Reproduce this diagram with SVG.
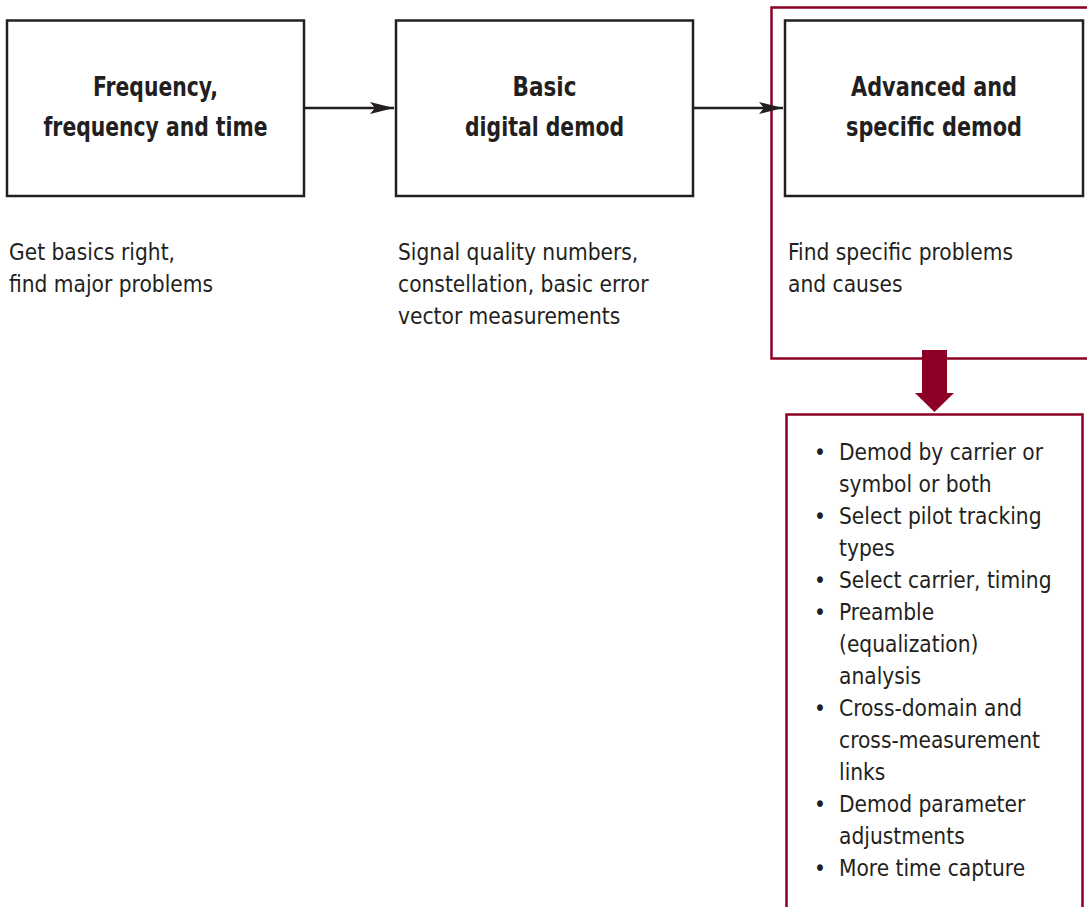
<svg xmlns="http://www.w3.org/2000/svg" width="1087" height="907" viewBox="0 0 1087 907">
<defs>
<style>
.box{fill:#fff;stroke:#231f20;stroke-width:2.5}
.red{fill:none;stroke:#8c0026;stroke-width:2.5}
.title{font-family:"Liberation Sans Narrow","DejaVu Sans Condensed",sans-serif;font-weight:bold;font-size:27px;fill:#231f20;text-anchor:middle}
.body{font-family:"Liberation Sans Narrow","DejaVu Sans Condensed",sans-serif;font-size:22.5px;fill:#231f20}
.conn{stroke:#231f20;stroke-width:2.5;fill:none}
</style>
<marker id="ah" viewBox="0 0 24 12" refX="24" refY="6" markerWidth="24" markerHeight="12" markerUnits="userSpaceOnUse" orient="auto">
<path d="M0,0 L24,6 L0,12 L5,6 Z" fill="#231f20"/>
</marker>
</defs>
<rect width="1087" height="907" fill="#fff"/>
<g id="highlight">
<path class="red" d="M1090,7.5 H771.5 V358.5 H1090"/>
</g>
<g id="node-frequency">
<rect class="box" x="7" y="20.5" width="297" height="175.5"/>
<text class="title" x="155.5" y="96" textLength="125" lengthAdjust="spacingAndGlyphs">Frequency,</text>
<text class="title" x="155.5" y="136" textLength="224" lengthAdjust="spacingAndGlyphs">frequency and time</text>
<text class="body" x="9" y="260">Get basics right,</text>
<text class="body" x="9" y="292">find major problems</text>
</g>
<g id="node-basic">
<rect class="box" x="396" y="20.5" width="297" height="175.5"/>
<text class="title" x="544.5" y="96" textLength="64" lengthAdjust="spacingAndGlyphs">Basic</text>
<text class="title" x="544.5" y="136" textLength="159" lengthAdjust="spacingAndGlyphs">digital demod</text>
<text class="body" x="398" y="260">Signal quality numbers,</text>
<text class="body" x="398" y="292">constellation, basic error</text>
<text class="body" x="398" y="324">vector measurements</text>
</g>
<g id="node-advanced">
<rect class="box" x="785" y="20.5" width="298" height="175.5"/>
<text class="title" x="934" y="96" textLength="166" lengthAdjust="spacingAndGlyphs">Advanced and</text>
<text class="title" x="934" y="136" textLength="176" lengthAdjust="spacingAndGlyphs">specific demod</text>
<text class="body" x="788" y="260">Find specific problems</text>
<text class="body" x="788" y="292">and causes</text>
</g>
<g id="node-details">
<path class="red" d="M786.5,910 V414.5 H1082.5 V910"/>
<g class="body">
<text x="814" y="460">•</text><text x="839" y="460">Demod by carrier or</text>
<text x="839" y="492">symbol or both</text>
<text x="814" y="524">•</text><text x="839" y="524">Select pilot tracking</text>
<text x="839" y="556">types</text>
<text x="814" y="588">•</text><text x="839" y="588">Select carrier, timing</text>
<text x="814" y="620">•</text><text x="839" y="620">Preamble</text>
<text x="839" y="652">(equalization)</text>
<text x="839" y="684">analysis</text>
<text x="814" y="716">•</text><text x="839" y="716">Cross-domain and</text>
<text x="839" y="748">cross-measurement</text>
<text x="839" y="780">links</text>
<text x="814" y="812">•</text><text x="839" y="812">Demod parameter</text>
<text x="839" y="844">adjustments</text>
<text x="814" y="876">•</text><text x="839" y="876">More time capture</text>
</g>
</g>
<g id="connectors">
<line class="conn" x1="304" y1="108" x2="394" y2="108" marker-end="url(#ah)"/>
<line class="conn" x1="693" y1="108" x2="783" y2="108" marker-end="url(#ah)"/>
<polygon points="922,350 947,350 947,393 954,393 934.5,412 915,393 922,393" fill="#8c0026"/>
</g>
</svg>
